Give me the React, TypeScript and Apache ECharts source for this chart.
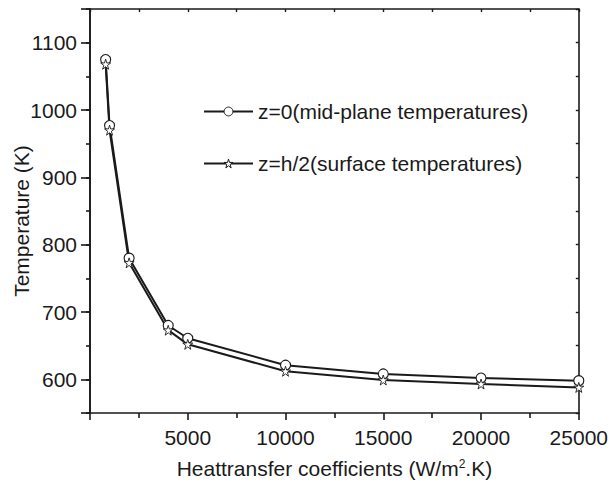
import React, { useEffect, useRef } from "react";
import * as echarts from "echarts";

const heatCoeff = [800, 1000, 2000, 4000, 5000, 10000, 15000, 20000, 25000];
const midPlane = [1075, 977, 780, 680, 661, 621, 608, 602, 598];
const surface = [1068, 970, 773, 673, 652, 612, 599, 593, 588];
const seriesNames = ["z=0(mid-plane temperatures)", "z=h/2(surface temperatures)"];

const STAR = "path://M50,2 L61,37 L98,37 L68,59 L79,95 L50,73 L21,95 L32,59 L2,37 L39,37 Z";
const FONT = "'Liberation Sans', Arial, sans-serif";
const INK = "#1a1a1a";

export default function App() {
  const ref = useRef<HTMLDivElement>(null);
  useEffect(() => {
    if (!ref.current) return;
    document.body.style.margin = "0";
    const chart = echarts.init(ref.current, null, { renderer: "svg" });
    const axisLine = { show: true, lineStyle: { color: INK, width: 1.6 } };
    chart.setOption({
      animation: false,
      backgroundColor: "#fff",
      textStyle: { fontFamily: FONT, color: INK },
      grid: { left: 90, right: 30, top: 9, bottom: 71, containLabel: false },
      legend: {
        orient: "vertical",
        left: 198,
        top: 96,
        itemWidth: 49,
        itemHeight: 11,
        itemGap: 31,
        itemStyle: { color: "#fff", borderColor: INK, borderWidth: 1 },
        textStyle: { fontSize: 21, color: INK, fontFamily: FONT },
        data: seriesNames,
      },
      graphic: [
        {
          type: "text",
          x: 21,
          y: 221,
          rotation: Math.PI / 2,
          style: {
            text: "Temperature (K)",
            fontSize: 21,
            fontFamily: FONT,
            fill: INK,
            align: "center",
            verticalAlign: "middle",
          },
        },
      ],
      xAxis: [
        {
          type: "value",
          position: "bottom",
          min: 0,
          max: 25000,
          interval: 5000,
          axisLine,
          axisTick: { show: true, length: 7, lineStyle: { color: INK, width: 1.6 } },
          minorTick: { show: true, splitNumber: 2, length: 5, lineStyle: { color: INK, width: 1.6 } },
          splitLine: { show: false },
          axisLabel: {
            fontSize: 21,
            color: INK,
            fontFamily: FONT,
            margin: 14,
            formatter: (v: number) => (v === 0 ? "" : String(v)),
          },
          name: "Heattransfer coefficients (W/m{sup|2}.K)",
          nameLocation: "middle",
          nameGap: 45,
          nameTextStyle: {
            fontSize: 21,
            color: INK,
            fontFamily: FONT,
            rich: { sup: { fontSize: 12, verticalAlign: "top", color: INK, fontFamily: FONT } },
          },
        },
        {
          type: "value",
          position: "top",
          min: 0,
          max: 25000,
          interval: 2500,
          axisLine,
          axisTick: { show: true, inside: true, length: 3, lineStyle: { color: INK, width: 1.4 } },
          splitLine: { show: false },
          axisLabel: { show: false },
        },
      ],
      yAxis: [
        {
          type: "value",
          position: "left",
          min: 550,
          max: 1150,
          interval: 50,
          axisLine,
          axisTick: { show: true, length: 4, lineStyle: { color: INK, width: 1.6 } },
          splitLine: { show: false },
          axisLabel: { show: false },
        },
        {
          type: "value",
          position: "left",
          min: 550,
          max: 1150,
          splitNumber: 6,
          axisLine,
          axisTick: { show: true, length: 9, lineStyle: { color: INK, width: 1.6 } },
          splitLine: { show: false },
          axisLabel: {
            fontSize: 21,
            color: INK,
            fontFamily: FONT,
            margin: 13,
            formatter: (v: number) => (v % 100 === 0 ? String(v) : ""),
          },
        },
        {
          type: "value",
          position: "right",
          min: 550,
          max: 1150,
          interval: 50,
          axisLine,
          axisTick: { show: true, inside: true, length: 3, lineStyle: { color: INK, width: 1.4 } },
          splitLine: { show: false },
          axisLabel: { show: false },
        },
      ],
      series: [
        {
          name: seriesNames[0],
          type: "line",
          xAxisIndex: 0,
          yAxisIndex: 0,
          data: heatCoeff.map((x, i) => [x, midPlane[i]]),
          symbol: "circle",
          symbolSize: 10,
          itemStyle: { color: "#fff", borderColor: INK, borderWidth: 1.1 },
          lineStyle: { color: INK, width: 2 },
        },
        {
          name: seriesNames[1],
          type: "line",
          xAxisIndex: 0,
          yAxisIndex: 0,
          data: heatCoeff.map((x, i) => [x, surface[i]]),
          symbol: STAR,
          symbolSize: 10,
          itemStyle: { color: "#fff", borderColor: INK, borderWidth: 0.9 },
          lineStyle: { color: INK, width: 2 },
        },
      ],
    });
    return () => chart.dispose();
  }, []);
  return <div ref={ref} style={{ width: 611, height: 484 }} />;
}
